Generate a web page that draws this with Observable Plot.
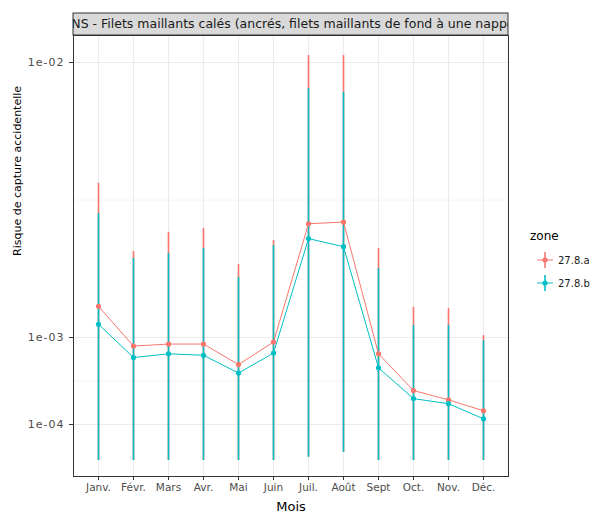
<!DOCTYPE html>
<html>
<head>
<meta charset="utf-8">
<script src="https://cdn.jsdelivr.net/npm/d3@7"></script>
<script src="https://cdn.jsdelivr.net/npm/@observablehq/plot@0.6"></script>
<style>
  html, body { margin: 0; padding: 0; background: white; }
  #chart svg { display: block; }
</style>
</head>
<body>
<div id="chart"></div>
<script>
const months = ["Janv.","Févr.","Mars","Avr.","Mai","Juin","Juil.","Août","Sept","Oct.","Nov.","Déc."];
const zones = ["27.8.a","27.8.b"];
const colors = ["#F8766D","#00BFC4"];
const estA = [1.55e-3, 8.7e-4, 9.0e-4, 9.0e-4, 6.2e-4, 9.3e-4, 3.59e-3, 3.64e-3, 7.6e-4, 3.4e-4, 2.6e-4, 1.8e-4];
const estB = [1.22e-3, 7.1e-4, 7.6e-4, 7.4e-4, 5.2e-4, 7.7e-4, 3.16e-3, 2.94e-3, 5.8e-4, 2.7e-4, 2.3e-4, 1.3e-4];
const hiA  = [4.9e-3, 2.81e-3, 3.34e-3, 3.45e-3, 2.48e-3, 3.11e-3, 1.035e-2, 1.035e-2, 2.89e-3, 1.53e-3, 1.51e-3, 1.03e-3];
const hiB  = [3.9e-3, 2.63e-3, 2.76e-3, 2.89e-3, 2.17e-3, 2.97e-3, 8.75e-3, 8.58e-3, 2.38e-3, 1.2e-3, 1.2e-3, 9.5e-4];
const loA  = [1.1e-6, 1.1e-6, 1.1e-6, 1.1e-6, 1.1e-6, 1.1e-6, 3.5e-6, 9.7e-6, 1.1e-6, 1.1e-6, 1.1e-6, 1.1e-6];
const loB  = [1.1e-6, 1.1e-6, 1.1e-6, 1.1e-6, 1.1e-6, 1.1e-6, 3.5e-6, 9.7e-6, 1.1e-6, 1.1e-6, 1.1e-6, 1.1e-6];
const yTicks = [1e-4, 1e-3, 1e-2];
const yTickLabels = ["1e-04", "1e-03", "1e-02"];
const yMinor = [4.33e-4, 4.33e-3];
const title = "GNS - Filets maillants calés (ancrés, filets maillants de fond à une nappe)";
const xTitle = "Mois";
const yTitle = "Risque de capture accidentelle";
const legendTitle = "zone";

const data = [];
zones.forEach((z, zi) => {
  const est = zi === 0 ? estA : estB, hi = zi === 0 ? hiA : hiB, lo = zi === 0 ? loA : loB;
  months.forEach((m, i) => data.push({zone: z, month: m, est: est[i], lo: lo[i], hi: hi[i]}));
});

const font = "'DejaVu Sans', Verdana, sans-serif";
const W = 608, H = 518, mL = 73, mR = 100, mT = 35, mB = 42;

const plot = Plot.plot({
  width: W, height: H,
  marginLeft: mL, marginRight: mR, marginTop: mT, marginBottom: mB,
  style: {fontFamily: font, background: "white", overflow: "visible"},
  x: {type: "point", domain: months, range: [93, 487], padding: 0, axis: null},
  y: {type: "sqrt", domain: [0, 0.011389], range: [464.2, 35], axis: null},
  color: {domain: zones, range: colors},
  marks: [
    Plot.ruleY(yMinor, {stroke: "#EBEBEB", strokeWidth: 0.6}),
    Plot.ruleY(yTicks, {stroke: "#EBEBEB", strokeWidth: 1.1}),
    Plot.ruleX(months, {stroke: "#EBEBEB", strokeWidth: 1.1}),
    Plot.ruleX(data, {x: "month", y1: "lo", y2: "hi", stroke: "zone", strokeWidth: 1.6}),
    Plot.line(data, {x: "month", y: "est", z: "zone", stroke: "zone", strokeWidth: 1}),
    Plot.dot(data, {x: "month", y: "est", fill: "zone", r: 2.6}),
    Plot.frame({stroke: "#333333", strokeWidth: 1}),
    Plot.axisY(yTicks, {tickFormat: d => yTickLabels[yTicks.indexOf(d)], fontSize: 11, color: "#4D4D4D", stroke: "#333333", tickSize: 4, tickPadding: 5, label: null}),
    Plot.axisX(months, {fontSize: 10.5, color: "#4D4D4D", stroke: "#333333", tickSize: 4, tickPadding: 3, label: null}),
    Plot.text([xTitle], {frameAnchor: "bottom", dy: 34, fontSize: 13, fill: "black"}),
    Plot.text([yTitle], {frameAnchor: "left", dx: -56, rotate: -90, fontSize: 11, fill: "black"})
  ]
});

document.getElementById("chart").appendChild(plot);

const svg = d3.select(plot);
svg.selectAll('[aria-label="y-axis tick label"] text').attr("letter-spacing", 1);

// Strip (facet label) above the panel
const stripTop = 13, stripH = mT - stripTop;
svg.append("clipPath").attr("id", "stripclip")
  .append("rect").attr("x", mL).attr("y", stripTop).attr("width", W - mL - mR).attr("height", stripH);
svg.append("rect").attr("x", mL).attr("y", stripTop).attr("width", W - mL - mR).attr("height", stripH)
  .attr("fill", "#D9D9D9").attr("stroke", "#333333").attr("stroke-width", 1);
svg.append("text").attr("clip-path", "url(#stripclip)")
  .attr("x", mL + (W - mL - mR) / 2).attr("y", stripTop + stripH / 2).attr("dy", "0.35em")
  .attr("text-anchor", "middle").attr("font-size", 12.5).attr("fill", "#1A1A1A")
  .attr("font-family", font).text(title);

// Legend
const lg = svg.append("g").attr("font-family", font).attr("text-anchor", "start");
lg.append("text").attr("x", 530).attr("y", 240).attr("font-size", 12).attr("fill", "black").text(legendTitle);
zones.forEach((z, i) => {
  const cy = 260 + i * 23, cx = 545;
  lg.append("line").attr("x1", cx - 8).attr("x2", cx + 8).attr("y1", cy).attr("y2", cy).attr("stroke", colors[i]).attr("stroke-width", 1);
  lg.append("line").attr("x1", cx).attr("x2", cx).attr("y1", cy - 8).attr("y2", cy + 8).attr("stroke", colors[i]).attr("stroke-width", 1.6);
  lg.append("circle").attr("cx", cx).attr("cy", cy).attr("r", 2.6).attr("fill", colors[i]);
  lg.append("text").attr("x", 558).attr("y", cy).attr("dy", "0.35em").attr("font-size", 10).attr("fill", "#1A1A1A").text(z);
});
</script>
</body>
</html>
